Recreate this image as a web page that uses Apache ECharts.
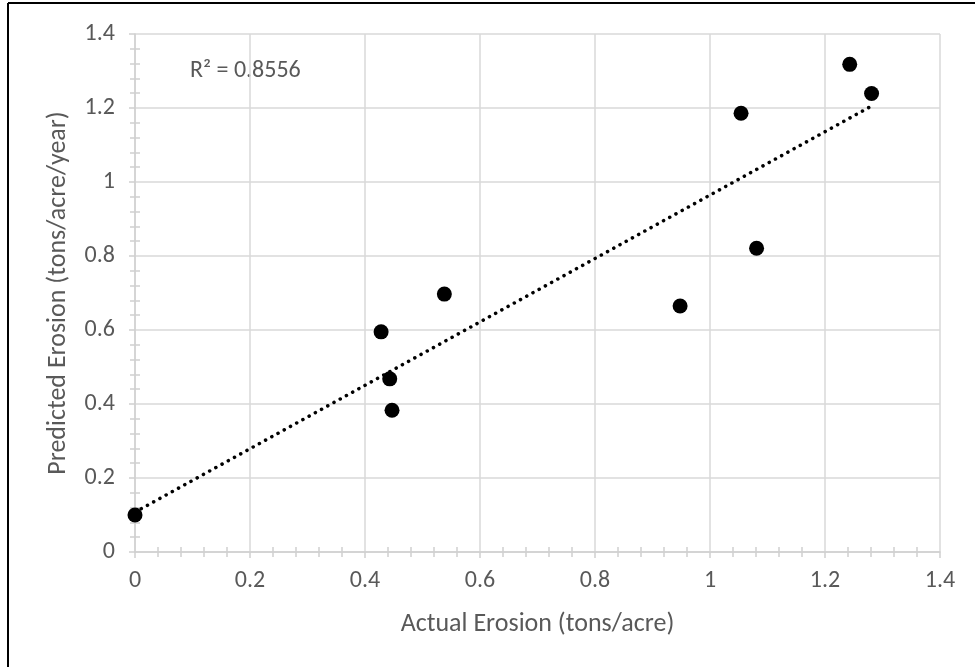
<!DOCTYPE html>
<html>
<head>
<meta charset="utf-8">
<script src="https://cdn.jsdelivr.net/npm/echarts@6/dist/echarts.min.js"></script>
<style>
html,body{margin:0;padding:0;background:#fff;}
#chart{width:975px;height:667px;}
</style>
</head>
<body>
<div id="chart"></div>
<script>
// Data
var actualErosion = [0, 0.428, 0.443, 0.447, 0.538, 0.948, 1.054, 1.081, 1.243, 1.281];
var predictedErosion = [0.10, 0.595, 0.468, 0.383, 0.697, 0.665, 1.186, 0.821, 1.318, 1.239];
var axisTicks = [0, 0.2, 0.4, 0.6, 0.8, 1, 1.2, 1.4];
var rSquaredText = 'R² = 0.8556';
var xTitle = 'Actual Erosion (tons/acre)';
var yTitle = 'Predicted Erosion (tons/acre/year)';

var points = actualErosion.map(function (x, i) { return [x, predictedErosion[i]]; });

// Least-squares linear trendline
var n = actualErosion.length, sx = 0, sy = 0, sxx = 0, sxy = 0;
for (var i = 0; i < n; i++) {
  sx += actualErosion[i]; sy += predictedErosion[i];
  sxx += actualErosion[i] * actualErosion[i]; sxy += actualErosion[i] * predictedErosion[i];
}
var slope = (n * sxy - sx * sy) / (n * sxx - sx * sx);
var intercept = (sy - slope * sx) / n;
var xMin = Math.min.apply(null, actualErosion), xMax = Math.max.apply(null, actualErosion);
var trend = [[xMin, intercept + slope * xMin], [xMax, intercept + slope * xMax]];

var FONT = "Carlito, 'Liberation Sans Narrow', 'Open Sans', sans-serif";
var TXT = '#595959';
var AXC = '#d0d0d0';

function lbl(v) { return String(+v.toFixed(1)); }

var chart = echarts.init(document.getElementById('chart'), null, {renderer: 'canvas'});
chart.setOption({
  animation: false,
  backgroundColor: '#fff',
  grid: {left: 135, right: 35, top: 34, bottom: 115},
  graphic: [
    {type: 'line', shape: {x1: 8, y1: 3, x2: 8, y2: 667}, style: {stroke: '#000', lineWidth: 2}},
    {type: 'line', shape: {x1: 8, y1: 3, x2: 975, y2: 3}, style: {stroke: '#000', lineWidth: 2}},
    {type: 'text', left: 190, top: 59, style: {text: rSquaredText, font: "24px " + FONT, fill: TXT}}
  ],
  xAxis: [{
    type: 'value', min: axisTicks[0], max: axisTicks[axisTicks.length - 1], interval: 0.2,
    name: xTitle, nameLocation: 'middle', nameGap: 59,
    nameTextStyle: {color: TXT, fontSize: 26, fontFamily: FONT},
    axisLine: {show: true, onZero: false, lineStyle: {color: AXC, width: 1.5}},
    axisTick: {show: true, length: 6, lineStyle: {color: AXC, width: 1.5}},
    minorTick: {show: true, splitNumber: 5, length: 5, lineStyle: {color: AXC, width: 1.5}},
    axisLabel: {color: TXT, fontSize: 24, fontFamily: FONT, margin: 17, formatter: lbl},
    splitLine: {show: true, lineStyle: {color: '#d9d9d9', width: 1.5}}
  }, {
    type: 'value', min: axisTicks[0], max: axisTicks[axisTicks.length - 1], interval: 0.2,
    position: 'bottom',
    axisLine: {show: false, onZero: false},
    axisTick: {show: true, inside: true, length: 0, lineStyle: {color: AXC, width: 1.5}},
    minorTick: {show: true, splitNumber: 5, length: 5, lineStyle: {color: AXC, width: 1.5}},
    axisLabel: {show: false}, splitLine: {show: false}
  }],
  yAxis: [{
    type: 'value', min: axisTicks[0], max: axisTicks[axisTicks.length - 1], interval: 0.2,
    name: yTitle, nameLocation: 'middle', nameGap: 64,
    nameTextStyle: {color: TXT, fontSize: 26, fontFamily: FONT},
    axisLine: {show: true, onZero: false, lineStyle: {color: AXC, width: 1.5}},
    axisTick: {show: true, length: 6, lineStyle: {color: AXC, width: 1.5}},
    minorTick: {show: true, splitNumber: 5, length: 5, lineStyle: {color: AXC, width: 1.5}},
    axisLabel: {color: TXT, fontSize: 24, fontFamily: FONT, margin: 20, formatter: lbl},
    splitLine: {show: true, lineStyle: {color: '#d9d9d9', width: 1.5}}
  }, {
    type: 'value', min: axisTicks[0], max: axisTicks[axisTicks.length - 1], interval: 0.2,
    position: 'left',
    axisLine: {show: false, onZero: false},
    axisTick: {show: true, inside: true, length: 0, lineStyle: {color: AXC, width: 1.5}},
    minorTick: {show: true, splitNumber: 5, length: 5, lineStyle: {color: AXC, width: 1.5}},
    axisLabel: {show: false}, splitLine: {show: false}
  }],
  series: [{
    type: 'line', data: trend, symbol: 'none', silent: true, z: 3,
    lineStyle: {color: '#000', width: 3.5, type: [0.1, 7], cap: 'round'}
  }, {
    type: 'scatter', data: points, symbol: 'circle', symbolSize: 15, z: 4,
    itemStyle: {color: '#000', opacity: 1}
  }]
});
</script>
</body>
</html>
